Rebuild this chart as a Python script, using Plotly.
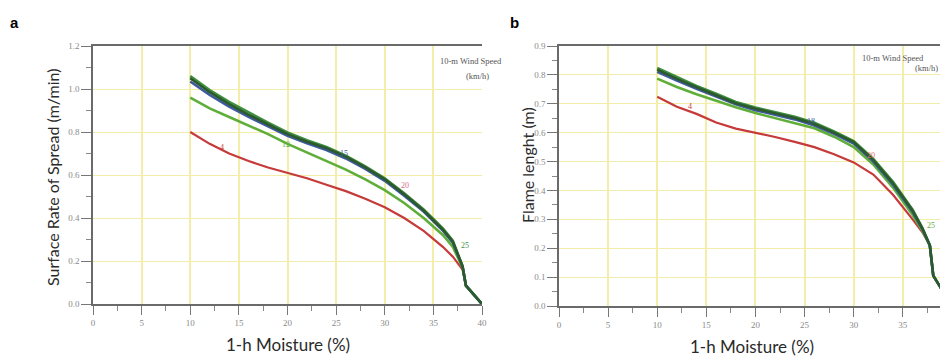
import plotly.graph_objects as go

# ---------------- data: panel a (Surface rate of spread, m/min) ----------------
moisture_a = [10, 12, 14, 16, 18, 20, 22, 24, 26, 28, 30, 32, 34, 36, 37, 38, 38.35, 40]
ros_4 = [0.80, 0.745, 0.70, 0.665, 0.635, 0.61, 0.585, 0.555, 0.525, 0.49, 0.45, 0.40, 0.34, 0.265, 0.22, 0.16, 0.085, 0.0]
ros_12 = [0.96, 0.91, 0.87, 0.83, 0.79, 0.745, 0.705, 0.665, 0.625, 0.58, 0.53, 0.47, 0.40, 0.32, 0.265, 0.17, 0.085, 0.0]
ros_15 = [1.035, 0.972, 0.918, 0.87, 0.826, 0.782, 0.747, 0.716, 0.677, 0.628, 0.573, 0.504, 0.43, 0.34, 0.285, 0.175, 0.085, 0.0]
ros_20 = [1.05, 0.985, 0.93, 0.88, 0.835, 0.79, 0.755, 0.725, 0.685, 0.635, 0.58, 0.51, 0.435, 0.345, 0.29, 0.175, 0.085, 0.0]
ros_25 = [1.06, 0.995, 0.94, 0.89, 0.843, 0.798, 0.762, 0.731, 0.69, 0.64, 0.585, 0.515, 0.44, 0.35, 0.295, 0.175, 0.085, 0.0]

# ---------------- data: panel b (Flame length, m) ----------------
moisture_b = [10, 12, 14, 16, 18, 20, 22, 24, 26, 28, 30, 32, 34, 36, 37, 37.75, 38.1, 40]
fl_4 = [0.724, 0.69, 0.665, 0.635, 0.614, 0.60, 0.585, 0.568, 0.55, 0.525, 0.497, 0.455, 0.385, 0.30, 0.255, 0.21, 0.105, 0.0]
fl_12 = [0.787, 0.758, 0.733, 0.71, 0.688, 0.668, 0.651, 0.634, 0.615, 0.586, 0.55, 0.49, 0.41, 0.315, 0.26, 0.21, 0.105, 0.0]
fl_18 = [0.811, 0.78, 0.752, 0.726, 0.698, 0.678, 0.662, 0.646, 0.625, 0.596, 0.562, 0.50, 0.42, 0.325, 0.265, 0.21, 0.105, 0.0]
fl_20 = [0.818, 0.786, 0.757, 0.73, 0.702, 0.683, 0.667, 0.651, 0.63, 0.60, 0.567, 0.505, 0.425, 0.33, 0.268, 0.21, 0.105, 0.0]
fl_25 = [0.824, 0.792, 0.762, 0.735, 0.706, 0.687, 0.671, 0.655, 0.634, 0.604, 0.571, 0.509, 0.43, 0.333, 0.27, 0.21, 0.105, 0.0]

x_ticks = [0, 5, 10, 15, 20, 25, 30, 35, 40]

series_colors = {"4": "#c63a3a", "12": "#5fae3a", "15": "#3c5a9e", "18": "#3c5a9e",
                 "20": "#2c5a2e", "25": "#3f8f3f"}

fig = go.Figure()

def add_lines(xs, ys_list, names, xa, ya):
    for ys, nm in zip(ys_list, names):
        w = 2.2 if nm == "4" else 2.6
        fig.add_trace(go.Scatter(x=xs, y=ys, mode="lines", name=nm, showlegend=False,
                                 line=dict(color=series_colors[nm], width=w),
                                 xaxis=xa, yaxis=ya))

add_lines(moisture_a, [ros_4, ros_12, ros_25, ros_15, ros_20], ["4", "12", "25", "15", "20"], "x", "y")
add_lines(moisture_b, [fl_4, fl_12, fl_25, fl_18, fl_20], ["4", "12", "25", "18", "20"], "x2", "y2")

# the page body has an 8px default margin: figure is 940x350 placed at (8, 8)
OFF = 8
W, H = 940, 350
def px(x):
    return (x - OFF) / W
def py(y):
    return 1 - (y - OFF) / H

grid_col = "#f2eeaa"
tick_font = dict(family="Liberation Serif", size=9, color="#8a8a8a")
common_x = dict(tickvals=x_ticks, ticks="outside", ticklen=9, tickcolor="#777",
                showline=True, linecolor="#6a6a6a", linewidth=1.5, mirror=True,
                showgrid=True, gridcolor=grid_col, gridwidth=1.5, zeroline=False,
                tickfont=tick_font, automargin=False,
                minor=dict(dtick=2.5, ticklen=5, tickcolor="#888", ticks="outside", showgrid=False))
common_y = dict(ticks="outside", ticklen=10, tickcolor="#777",
                showline=True, linecolor="#6a6a6a", linewidth=1.5,
                showgrid=True, gridcolor=grid_col, gridwidth=1.2, zeroline=False,
                tickfont=tick_font, automargin=False)

fig.update_layout(
    width=W, height=H, margin=dict(l=0, r=0, t=0, b=0, autoexpand=False),
    paper_bgcolor="white", plot_bgcolor="white",
    xaxis=dict(common_x, domain=[px(93), px(482)], range=[0, 40], anchor="y"),
    yaxis=dict(common_y, domain=[py(304), py(46)], range=[0, 1.2], dtick=0.2,
               tickformat=".1f", anchor="x",
               minor=dict(dtick=0.1, ticklen=5, tickcolor="#888", ticks="outside", showgrid=False)),
    xaxis2=dict(common_x, domain=[px(559), 1.0], range=[0, 39.6], anchor="y2"),
    yaxis2=dict(common_y, domain=[py(306), py(46)], range=[0, 0.9], dtick=0.1,
                tickformat=".1f", anchor="x2",
                minor=dict(dtick=0.05, ticklen=5, tickcolor="#888", ticks="outside", showgrid=False)),
)

def paper_ann(text, x, y, font, angle=0):
    return dict(text=text, x=px(x), y=py(y), xref="paper", yref="paper", showarrow=False,
                xanchor="center", yanchor="middle", textangle=angle, font=font)

ann = []
title_font = dict(family="Lato", size=16, color="#2a2a2a")
ann.append(paper_ann("Surface Rate of Spread (m/min)", 52, 177, title_font, -90))
ann.append(paper_ann("Flame lenght (m)", 527, 165, title_font, -90))
xt_font = dict(family="Lato", size=17, color="#2a2a2a")
ann.append(paper_ann("1-h Moisture (%)", 288, 344, xt_font))
ann.append(paper_ann("1-h Moisture (%)", 752, 346, xt_font))
letter_font = dict(family="Liberation Sans", size=15, color="black")
ann.append(paper_ann("<b>a</b>", 14, 22, letter_font))
ann.append(paper_ann("<b>b</b>", 514, 22, letter_font))

legend_font = dict(family="Liberation Serif", size=8.5, color="#555")
ann.append(dict(text="10-m Wind Speed", x=35.5, y=1.13, xref="x", yref="y", showarrow=False,
                xanchor="left", font=legend_font))
ann.append(dict(text="(km/h)", x=38.1, y=1.06, xref="x", yref="y", showarrow=False,
                xanchor="left", font=legend_font))
ann.append(dict(text="10-m Wind Speed", x=30.6, y=0.858, xref="x2", yref="y2", showarrow=False,
                xanchor="left", font=legend_font))
ann.append(dict(text="(km/h)", x=36.0, y=0.823, xref="x2", yref="y2", showarrow=False,
                xanchor="left", font=legend_font))

lab_font = lambda c: dict(family="Liberation Serif", size=8, color=c)
for txt, x, y, c in [("4", 13.3, 0.73, "#c63a3a"), ("12", 19.8, 0.74, "#5fae3a"),
                     ("15", 25.8, 0.70, "#3c5a9e"), ("20", 32.1, 0.55, "#e06a8a"),
                     ("25", 38.2, 0.27, "#3f8f3f")]:
    ann.append(dict(text=txt, x=x, y=y, xref="x", yref="y", showarrow=False, font=lab_font(c)))
for txt, x, y, c in [("4", 13.3, 0.69, "#c63a3a"), ("18", 25.7, 0.64, "#3c5a9e"),
                     ("20", 31.8, 0.52, "#e06a6a"), ("25", 37.9, 0.28, "#5fae3a")]:
    ann.append(dict(text=txt, x=x, y=y, xref="x2", yref="y2", showarrow=False, font=lab_font(c)))

fig.update_layout(annotations=ann)
fig.write_html("out.html")
